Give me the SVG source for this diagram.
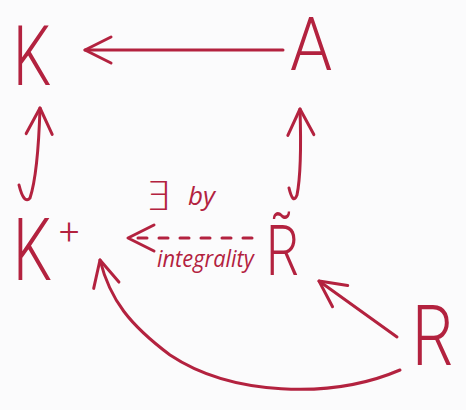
<svg xmlns="http://www.w3.org/2000/svg" width="466" height="410" viewBox="0 0 466 410">
<style>
.bg{fill:#fbfbfc}
.lbl{font-family:Roboto,"Open Sans","DejaVu Sans",sans-serif;font-weight:300;fill:#b3223f}
.note{font-family:"Open Sans","DejaVu Sans",sans-serif;font-style:italic;font-weight:400;fill:#b3223f}
.ln{fill:none;stroke:#b3223f;stroke-width:3;stroke-linecap:round;stroke-linejoin:round}
.dash{stroke-dasharray:9 12}
</style>
<defs>
<marker id="ah" markerUnits="userSpaceOnUse" markerWidth="40" markerHeight="40" viewBox="-30 -20 34 40" refX="0" refY="0" orient="auto">
<path d="M-26,-13 L0,0 L-26,13" fill="none" stroke="#b3223f" stroke-width="3" stroke-linecap="round" stroke-linejoin="round"/>
</marker>
</defs>
<rect class="bg" x="0" y="0" width="466" height="410"/>
<g id="connectors">
<path class="ln" d="M283,50 L85,50" marker-end="url(#ah)"/>
<path class="ln" d="M19,185 Q24,205 30,198 C36,180 39,140 40,108" marker-end="url(#ah)"/>
<path class="ln" d="M289,188 Q293,205 297,195 C301,175 301,140 300,109" marker-end="url(#ah)"/>
<path class="ln dash" d="M252,238 L128,238" marker-end="url(#ah)"/>
<path class="ln" d="M397,337 L319,281" marker-end="url(#ah)"/>
<path class="ln" d="M400,370 C330,400 230,395 170,355 C130,325 110,300 100,260" marker-end="url(#ah)"/>
<text class="lbl" x="145" y="210" font-size="40">∃</text>
<text class="note" x="188" y="205" font-size="26">by</text>
<text class="note" transform="translate(157,267) scale(0.95,1)" font-size="23">integrality</text>
</g>
<g id="K"><text class="lbl" transform="translate(13,85) scale(0.72,1)" font-size="84">K</text></g>
<g id="A"><text class="lbl" transform="translate(290,70) scale(0.9,1)" font-size="75">A</text></g>
<g id="Kplus"><text class="lbl" transform="translate(13,280) scale(0.7,1)" font-size="88">K</text><text class="lbl" x="59" y="244" font-size="36">+</text></g>
<g id="Rtilde"><text class="lbl" transform="translate(266,275) scale(0.75,1)" font-size="70">R̃</text></g>
<g id="R"><text class="lbl" transform="translate(412,365) scale(0.78,1)" font-size="84">R</text></g>
</svg>
